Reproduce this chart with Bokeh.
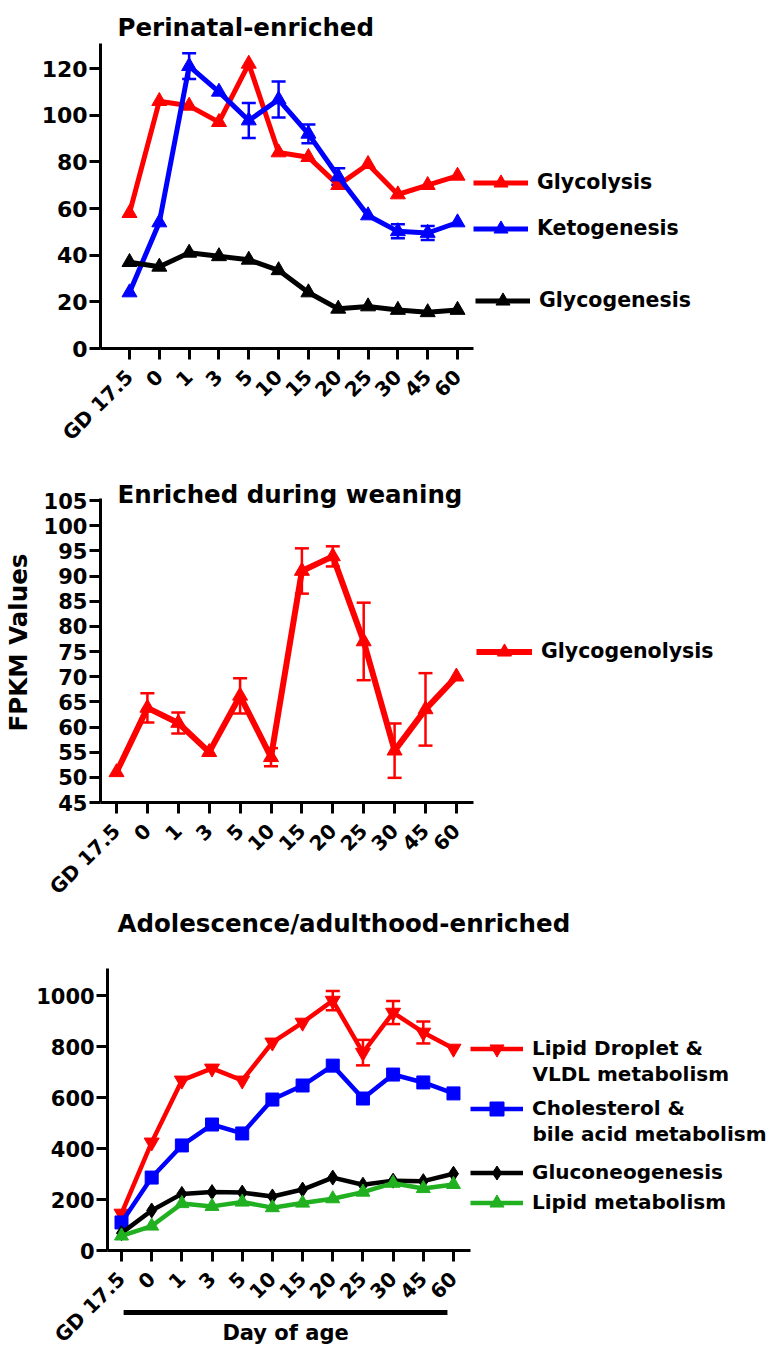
import math
from bokeh.plotting import figure
from bokeh.models import (Range1d, FixedTicker, ColumnDataSource, Whisker, TeeHead,
                          Legend, LegendItem, Label, Arrow)
from bokeh.layouts import column
from bokeh.embed import file_html
from bokeh.resources import INLINE

# ---------------- data ----------------
days = ["GD 17.5", "0", "1", "3", "5", "10", "15", "20", "25", "30", "45", "60"]

# Perinatal-enriched
glycolysis = [58, 106, 104, 97, 122, 84, 82, 70, 79, 66, 70, 74]
glycolysis_err = [0, 0, 0, 0, 0, 0, 0, 0, 0, 0, 0, 0]
ketogenesis = [24, 54, 121, 110, 97.7, 106.7, 92, 73.7, 57, 50.2, 49.5, 54]
ketogenesis_err = [0, 0, 5.5, 0, 7.5, 7.7, 4, 3.5, 0, 3, 3, 0]
glycogenesis = [37, 35, 41, 39.5, 38, 33.5, 24, 17, 18, 16.5, 15.5, 16.5]
glycogenesis_err = [0, 0, 0, 0, 0, 0, 0, 0, 0, 0, 0, 0]

# Enriched during weaning
glycogenolysis = [51, 63.8, 60.8, 55, 66.2, 54, 91, 93.9, 77, 55.3, 63.5, 70]
glycogenolysis_err = [0, 2.9, 2.1, 0, 3.5, 1.8, 4.5, 2.0, 7.7, 5.4, 7.2, 0]

# Adolescence/adulthood-enriched
lipid_droplet = [145, 424, 667, 714, 667, 816, 894, 980, 776, 933, 855, 792]
lipid_droplet_err = [0, 0, 0, 0, 0, 0, 0, 38, 50, 45, 43, 0]
cholesterol = [110, 286, 412, 494, 459, 592, 647, 725, 596, 690, 659, 616]
gluconeogenesis = [68, 157, 222, 229, 227, 212, 239, 286, 258, 274, 272, 301]
lipid_metabolism = [57, 96, 184, 173, 190, 168, 186, 203, 229, 264, 243, 259]

RED, BLUE, BLACK, GREEN = "#ff0000", "#0000ff", "#000000", "#20b020"
FONT = "DejaVu Sans"
X = list(range(len(days)))
W = 776


def make_fig(top, H, x0_page, kx, yref_page, yref_val, ky, xb, yb, yticks, yfont):
    """Frame covers the whole figure; axes drawn at fixed locations with bounds."""
    fx0 = x0_page
    x_start, x_end = -fx0 / kx, (W - fx0) / kx
    ybot = top + H - yref_page
    y_start, y_end = yref_val - ybot / ky, yref_val + (H - ybot) / ky
    p = figure(width=W, height=H, x_range=Range1d(x_start, x_end),
               y_range=Range1d(y_start, y_end),
               output_backend="svg", toolbar_location=None,
               min_border_left=0, min_border_top=0, min_border_right=0, min_border_bottom=0)
    p.outline_line_color = None
    p.xgrid.visible = False
    p.ygrid.visible = False
    p.background_fill_color = "white"
    p.border_fill_color = "white"
    xa, ya = p.xaxis[0], p.yaxis[0]
    xa.fixed_location = yb[0]
    ya.fixed_location = xb[0]
    xa.bounds = xb
    ya.bounds = yb
    xa.ticker = FixedTicker(ticks=X)
    xa.major_label_overrides = {i: d for i, d in enumerate(days)}
    xa.major_label_orientation = math.pi / 4
    xa.major_label_text_font_size = "20px"
    xa.major_label_standoff = 14
    ya.ticker = FixedTicker(ticks=yticks)
    ya.major_label_text_font_size = yfont
    ya.major_label_standoff = 2
    for ax in (xa, ya):
        ax.axis_line_width = 3
        ax.axis_line_color = "black"
        ax.major_tick_line_width = 3
        ax.major_tick_line_color = "black"
        ax.major_tick_out = 11
        ax.major_tick_in = 0
        ax.minor_tick_line_color = None
        ax.major_label_text_font = FONT
        ax.major_label_text_font_style = "bold"
        ax.major_label_text_color = "black"
    return p


def add_series(p, y, err, color, marker, size, lw):
    src = ColumnDataSource(dict(x=X, y=y))
    ln = p.line("x", "y", source=src, line_color=color, line_width=lw)
    sc = p.scatter("x", "y", source=src, marker=marker, size=size,
                   fill_color=color, line_color=color)
    ex = [x for x, e in zip(X, err) if e > 0]
    if ex:
        up = [v + e for v, e in zip(y, err) if e > 0]
        lo = [v - e for v, e in zip(y, err) if e > 0]
        wsrc = ColumnDataSource(dict(x=ex, upper=up, lower=lo))
        p.add_layout(Whisker(base="x", upper="upper", lower="lower", source=wsrc,
                             dimension="height", line_color=color, line_width=2.5,
                             upper_head=TeeHead(size=14, line_color=color, line_width=2.5),
                             lower_head=TeeHead(size=14, line_color=color, line_width=2.5)))
    return [ln, sc]


def add_legend(p, label, renderers, x, y, gw=55, gh=35, size="20.5px"):
    lg = Legend(items=[LegendItem(label=label, renderers=renderers)],
                location=(x, y), glyph_width=gw, glyph_height=gh,
                label_standoff=9, padding=0, margin=0, spacing=0,
                border_line_alpha=0, background_fill_alpha=0,
                label_text_font=FONT, label_text_font_style="bold",
                label_text_font_size=size, label_text_color="black")
    p.add_layout(lg, "center")


def add_text(p, text, x, y, size="24.5px", **kw):
    p.add_layout(Label(x=x, y=y, x_units="screen", y_units="screen", text=text,
                       text_font=FONT, text_font_style="bold", text_font_size=size,
                       text_color="black", **kw))


# ---------------- panel 1 ----------------
p1 = make_fig(0, 450, 129, 29.82, 348, 0, 2.3333, (-0.97, 11.54), (0, 130.7),
              list(range(0, 121, 20)), "22px")
r_gly = add_series(p1, glycolysis, glycolysis_err, RED, "triangle", 15, 5)
r_ket = add_series(p1, ketogenesis, ketogenesis_err, BLUE, "triangle", 15, 5)
r_gcg = add_series(p1, glycogenesis, glycogenesis_err, BLACK, "triangle", 15, 5)
add_text(p1, "Perinatal-enriched", 117, 423, text_baseline="alphabetic")
add_legend(p1, "Glycolysis", r_gly, 473, 250.5)
add_legend(p1, "Ketogenesis", r_ket, 473, 204.5)
add_legend(p1, "Glycogenesis", r_gcg, 475, 132.5)

# ---------------- panel 2 ----------------
p2 = make_fig(450, 450, 116, 30.9, 802, 45, 5.033, (-0.52, 11.55), (45, 105.4),
              list(range(45, 106, 5)), "21px")
r_glg = add_series(p2, glycogenolysis, glycogenolysis_err, RED, "triangle", 15, 6)
add_text(p2, "Enriched during weaning", 117, 406, text_baseline="alphabetic")
add_legend(p2, "Glycogenolysis", r_glg, 476, 231.5, gw=56)
add_text(p2, "FPKM Values", 18, 258, angle=math.pi / 2, text_align="center",
         text_baseline="middle")

# ---------------- panel 3 ----------------
p3 = make_fig(900, 455, 121, 30.18, 1250, 0, 0.255, (-0.46, 11.56), (0, 1106),
              list(range(0, 1001, 200)), "21px")
r_ld = add_series(p3, lipid_droplet, lipid_droplet_err, RED, "inverted_triangle", 15, 4.5)
r_ch = add_series(p3, cholesterol, [0] * 12, BLUE, "square", 13, 4.5)
r_gn = add_series(p3, gluconeogenesis, [0] * 12, BLACK, "diamond", 15, 4.5)
r_lm = add_series(p3, lipid_metabolism, [0] * 12, GREEN, "triangle", 14, 4.5)
add_text(p3, "Adolescence/adulthood-enriched", 117, 432, text_baseline="alphabetic")
LEG3 = "20px"
add_legend(p3, "Lipid Droplet &", r_ld, 470, 289.5, gw=53, size=LEG3)
add_text(p3, "VLDL metabolism", 532, 282, size=LEG3, text_baseline="middle")
add_legend(p3, "Cholesterol &", r_ch, 470, 229.5, gw=53, size=LEG3)
add_text(p3, "bile acid metabolism", 532, 222, size=LEG3, text_baseline="middle")
add_legend(p3, "Gluconeogenesis", r_gn, 470, 165.5, gw=53, size=LEG3)
add_legend(p3, "Lipid metabolism", r_lm, 470, 135.5, gw=53, size=LEG3)

# "Day of age" bar under the postnatal days
bar_start, bar_end = 0.07, 10.8
bar_y = -62 / 0.255
p3.add_layout(Arrow(x_start=bar_start, y_start=bar_y, x_end=bar_end, y_end=bar_y,
                    start=None, end=None, line_width=5, line_color="black"))
p3.add_layout(Label(x=(bar_start + bar_end) / 2, y=23, x_units="data", y_units="screen",
                    text="Day of age", text_align="center", text_baseline="middle",
                    text_font=FONT, text_font_style="bold", text_font_size="21px",
                    text_color="black"))

layout = column(p1, p2, p3)
open("out.html", "w").write(file_html(layout, INLINE))
